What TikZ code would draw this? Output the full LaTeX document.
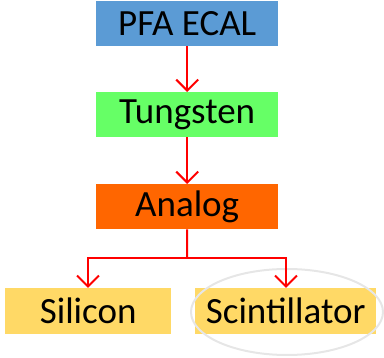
\documentclass[tikz,border=0pt]{standalone}
\usepackage{fontspec}
\setmainfont{Carlito}
\usetikzlibrary{arrows.meta}
\definecolor{boxblue}{HTML}{5B9BD5}
\definecolor{boxgreen}{HTML}{66FF66}
\definecolor{boxorange}{HTML}{FF6600}
\definecolor{boxyellow}{HTML}{FFD966}
\definecolor{ringgray}{HTML}{E6E6E6}
\tikzset{
  box/.style={rectangle, inner sep=0pt, anchor=north west, font=\fontsize{37}{40}\selectfont, text=black},
  link/.style={draw=red, line width=2pt, -{Straight Barb[length=11pt,width=22pt,line width=2pt]}},
}
\begin{document}
\begin{tikzpicture}[x=1pt,y=-1pt]
\useasboundingbox (0,0) rectangle (384,358);
\node[box, fill=boxblue, minimum width=182pt, minimum height=45pt] (ecal) at (96,1) {PFA ECAL};
\node[box, fill=boxgreen, minimum width=182pt, minimum height=45pt] (tung) at (96,92) {Tungsten};
\node[box, fill=boxorange, minimum width=182pt, minimum height=45pt] (analog) at (96,184) {Analog};
\node[box, fill=boxyellow, minimum width=166pt, minimum height=46pt] (si) at (5,288) {Silicon};
\node[box, fill=boxyellow, minimum width=181pt, minimum height=46pt] (sc) at (195,288) {Scintillator};
\draw[ringgray, line width=2pt] (287,312) ellipse [x radius=96, y radius=43];
\coordinate (split) at (187,258);
\draw[link] (ecal.south) -- (tung.north);
\draw[link] (tung.south) -- (analog.north);
\draw[draw=red, line width=2pt] (analog.south) -- (split);
\draw[link] (split) -- (88,258) -- (si.north -| 88,0);
\draw[link] (split) -- (286,258) -- (sc.north -| 286,0);
\end{tikzpicture}
\end{document}
